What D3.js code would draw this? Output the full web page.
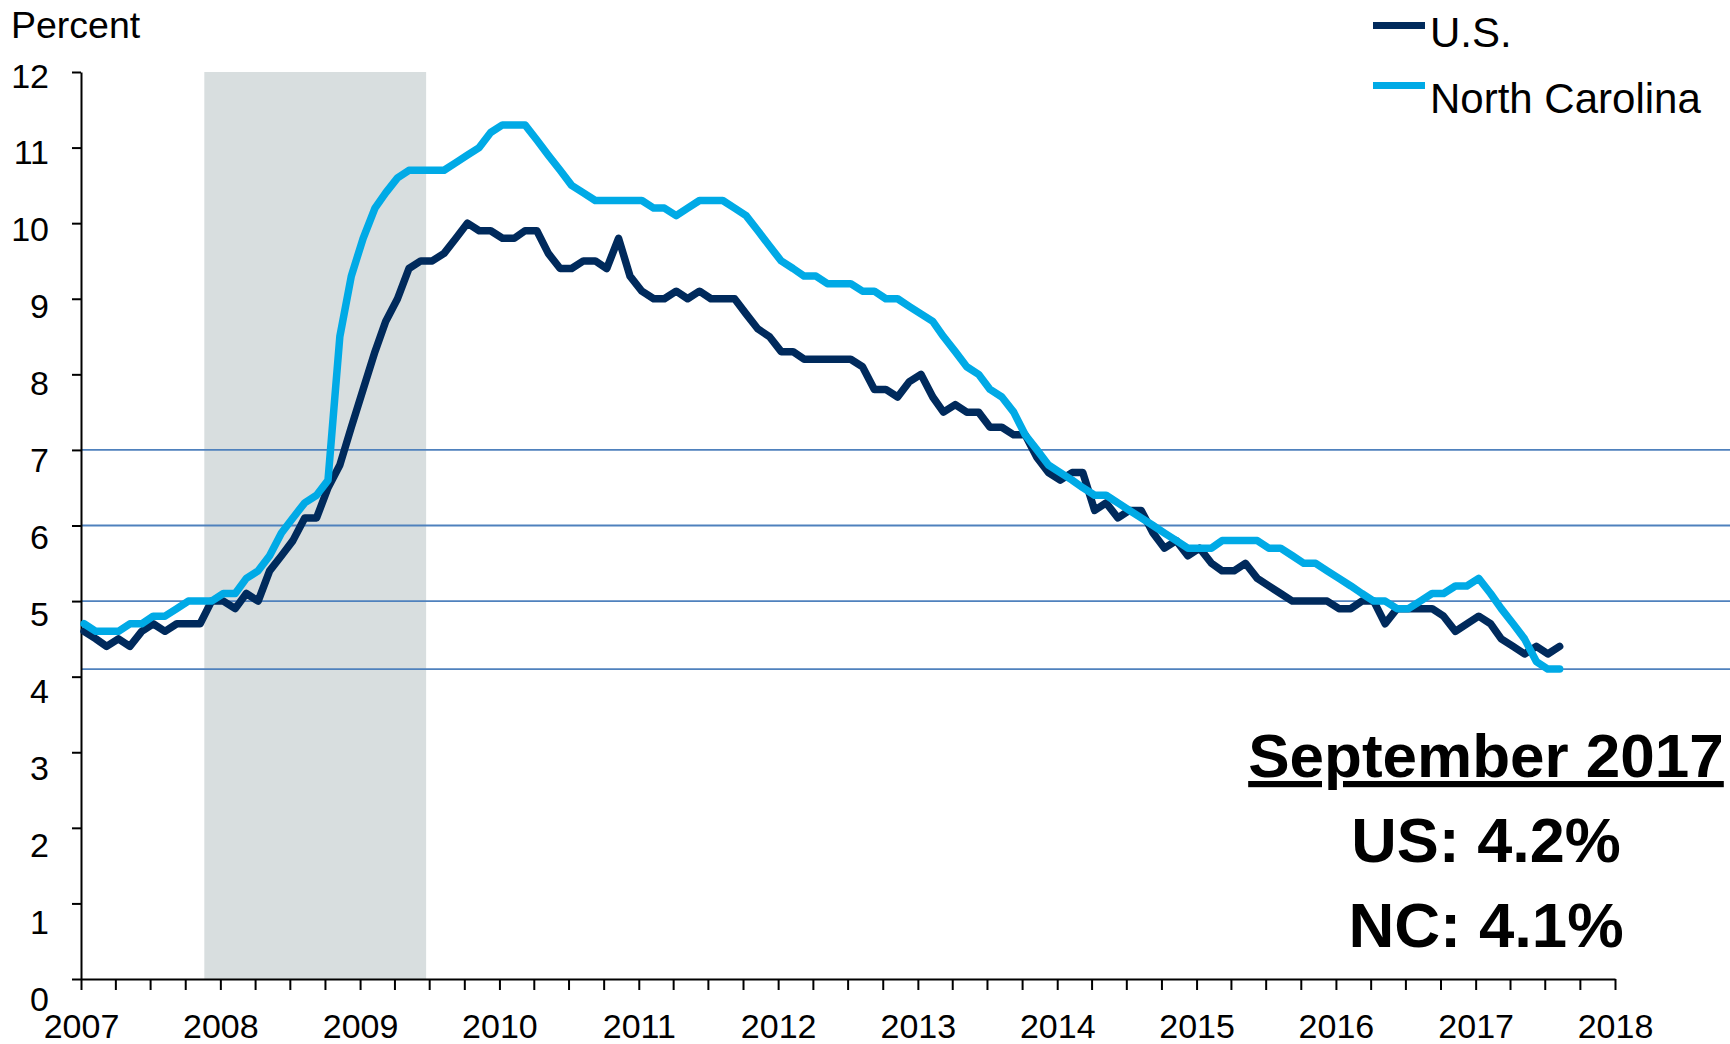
<!DOCTYPE html>
<html>
<head>
<meta charset="utf-8">
<script src="https://cdn.jsdelivr.net/npm/d3@7"></script>
<style>
  body { margin: 0; background: #fff; }
  text { font-family: "Liberation Sans", Arial, sans-serif; fill: #000; }
</style>
</head>
<body>
<script>
// monthly unemployment rate, Jan 2007 - Aug 2017
const firstMonth = new Date(2007, 0, 1);
const usRate = [
  4.6,4.5,4.4,4.5,4.4,4.6,4.7,4.6,4.7,4.7,4.7,5.0,
  5.0,4.9,5.1,5.0,5.4,5.6,5.8,6.1,6.1,6.5,6.8,7.3,
  7.8,8.3,8.7,9.0,9.4,9.5,9.5,9.6,9.8,10.0,9.9,9.9,
  9.8,9.8,9.9,9.9,9.6,9.4,9.4,9.5,9.5,9.4,9.8,9.3,
  9.1,9.0,9.0,9.1,9.0,9.1,9.0,9.0,9.0,8.8,8.6,8.5,
  8.3,8.3,8.2,8.2,8.2,8.2,8.2,8.1,7.8,7.8,7.7,7.9,
  8.0,7.7,7.5,7.6,7.5,7.5,7.3,7.3,7.2,7.2,6.9,6.7,
  6.6,6.7,6.7,6.2,6.3,6.1,6.2,6.2,5.9,5.7,5.8,5.6,
  5.7,5.5,5.4,5.4,5.5,5.3,5.2,5.1,5.0,5.0,5.0,5.0,
  4.9,4.9,5.0,5.0,4.7,4.9,4.9,4.9,4.9,4.8,4.6,4.7,
  4.8,4.7,4.5,4.4,4.3,4.4,4.3,4.4
];
const ncRate = [
  4.7,4.6,4.6,4.6,4.7,4.7,4.8,4.8,4.9,5.0,5.0,5.0,
  5.1,5.1,5.3,5.4,5.6,5.9,6.1,6.3,6.4,6.6,8.5,9.3,
  9.8,10.2,10.4,10.6,10.7,10.7,10.7,10.7,10.8,10.9,11.0,11.2,
  11.3,11.3,11.3,11.1,10.9,10.7,10.5,10.4,10.3,10.3,10.3,10.3,
  10.3,10.2,10.2,10.1,10.2,10.3,10.3,10.3,10.2,10.1,9.9,9.7,
  9.5,9.4,9.3,9.3,9.2,9.2,9.2,9.1,9.1,9.0,9.0,8.9,
  8.8,8.7,8.5,8.3,8.1,8.0,7.8,7.7,7.5,7.2,7.0,6.8,
  6.7,6.6,6.5,6.4,6.4,6.3,6.2,6.1,6.0,5.9,5.8,5.7,
  5.7,5.7,5.8,5.8,5.8,5.8,5.7,5.7,5.6,5.5,5.5,5.4,
  5.3,5.2,5.1,5.0,5.0,4.9,4.9,5.0,5.1,5.1,5.2,5.2,
  5.3,5.1,4.9,4.7,4.5,4.2,4.1,4.1
];
const recession = [new Date(2007, 10, 20), new Date(2009, 5, 23)];
const refLines = [7, 6, 5, 4.1];
const yTicks = [0,1,2,3,4,5,6,7,8,9,10,11,12];
const legendItems = [
  { name: "U.S.", color: "#002a5c" },
  { name: "North Carolina", color: "#00aae6" }
];
const noteLines = ["September 2017", "US: 4.2%", "NC: 4.1%"];

const W = 1730, H = 1044;
const svg = d3.select("body").append("svg")
  .attr("width", W).attr("height", H);

const x = d3.scaleTime()
  .domain([new Date(2007, 0, 1), new Date(2018, 0, 1)])
  .range([81, 1615]);
const y = d3.scaleLinear().domain([0, 12]).range([979, 72]);
// tick labels in the original sit a little off their ticks
const yLabel = d3.scaleLinear().domain([0, 12]).range([1010, 87]);

// points sit a few days into each month
const months = usRate.map((d, i) => d3.timeDay.offset(d3.timeMonth.offset(firstMonth, i), 8));

// recession shading
svg.append("rect")
  .attr("x", x(recession[0]))
  .attr("y", y(12))
  .attr("width", x(recession[1]) - x(recession[0]))
  .attr("height", y(0) - y(12))
  .attr("fill", "#d8dedf");

// reference lines
svg.selectAll(".ref")
  .data(refLines)
  .enter()
  .append("line")
  .attr("x1", x.range()[0]).attr("x2", W)
  .attr("y1", d => y(d)).attr("y2", d => y(d))
  .attr("stroke", "#4f81bd")
  .attr("stroke-width", 1.8);

// axes
const yAxis = svg.append("g")
  .attr("transform", `translate(${x.range()[0]},0)`)
  .call(d3.axisLeft(y).tickValues(yTicks).tickSize(9).tickSizeOuter(0));
yAxis.selectAll("text")
  .attr("x", -32)
  .attr("dy", 0)
  .attr("y", d => yLabel(d) - y(d))
  .style("font-size", "34px");

const xAxis = svg.append("g")
  .attr("transform", `translate(0,${y(0)})`)
  .call(d3.axisBottom(x)
    .ticks(d3.timeMonth.every(3))
    .tickSize(11).tickSizeOuter(0)
    .tickFormat(d => d.getMonth() === 0 ? d3.timeFormat("%Y")(d) : ""));
xAxis.selectAll("text")
  .attr("y", 59).attr("dy", 0)
  .style("font-size", "34px");

svg.selectAll(".domain, .tick line")
  .attr("stroke", "#000").attr("stroke-width", 2);
svg.selectAll(".tick text").attr("fill", "#000");

svg.append("text")
  .attr("x", 11).attr("y", 38)
  .style("font-size", "37.5px")
  .text("Percent");

// series
const line = d3.line()
  .x((d, i) => x(months[i]))
  .y(d => y(d));

[usRate, ncRate].forEach((series, k) => {
  svg.append("path")
    .datum(series)
    .attr("d", line)
    .attr("fill", "none")
    .attr("stroke", legendItems[k].color)
    .attr("stroke-width", 7.5)
    .attr("stroke-linejoin", "round")
    .attr("stroke-linecap", "round");
});

// legend
const legend = svg.selectAll(".legend")
  .data(legendItems)
  .enter()
  .append("g");
legend.append("line")
  .attr("x1", 1373).attr("x2", 1425)
  .attr("y1", (d, i) => 25.5 + i * 60)
  .attr("y2", (d, i) => 25.5 + i * 60)
  .attr("stroke", d => d.color)
  .attr("stroke-width", 7);
legend.append("text")
  .attr("x", 1430)
  .attr("y", (d, i) => 47 + i * 66)
  .style("font-size", "42px")
  .text(d => d.name);

// annotation
svg.selectAll(".note")
  .data(noteLines)
  .enter()
  .append("text")
  .attr("x", 1486)
  .attr("y", (d, i) => [777, 862, 947][i])
  .attr("text-anchor", "middle")
  .style("font-weight", "bold")
  .style("font-size", (d, i) => ["62px", "63px", "63.5px"][i])
  .style("text-decoration", (d, i) => i === 0 ? "underline" : "none")
  .text(d => d);
</script>
</body>
</html>
